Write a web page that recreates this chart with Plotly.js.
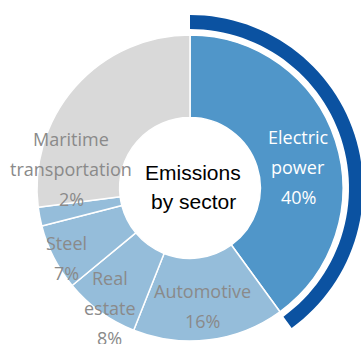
<!DOCTYPE html>
<html><head><meta charset="utf-8">
<script src="https://cdn.plot.ly/plotly-3.0.1.min.js"></script>
<style>html,body{margin:0;padding:0;background:#fff}#chart{width:361px;height:344px}</style>
</head><body><div id="chart"></div>
<script>
const sectors = ["Electric power", "Automotive", "Real estate", "Steel", "Maritime transportation", "Other"];
const shares = [40, 16, 8, 7, 2, 27];
const sliceColors = ["#5096C9", "#95BDDA", "#95BDDA", "#95BDDA", "#95BDDA", "#D9D9D9"];
const labelLines = [["Electric", "power", "40%"], ["Automotive", "16%"], ["Real", "estate", "8%"], ["Steel", "7%"], ["Maritime", "transportation", "2%"], []];
const labelAnchors = [[298, 137], [203, 291], [110, 278], [66, 243], [71, 139], [0, 0]];
const labelColors = ["#FFFFFF", "#8A8A8A", "#8A8A8A", "#8A8A8A", "#8A8A8A", "#8A8A8A"];
const centerLines = ["Emissions", "by sector"];
const highlightIndex = 0;

const W = 361, H = 344;
const cx = 190, cy = 188, R = 153;
const px2x = p => p / W, py2y = p => 1 - p / H;

// highlight arc derived from the share of the highlighted sector
const total = shares.reduce((a, b) => a + b, 0);
const startFrac = shares.slice(0, highlightIndex).reduce((a, b) => a + b, 0) / total;
const endFrac = startFrac + shares[highlightIndex] / total;
const rIn = 159, rOut = 173;
const pts = [];
const N = 60;
for (let i = 0; i <= N; i++) {
  const a = 2 * Math.PI * (startFrac + (endFrac - startFrac) * i / N);
  pts.push([cx + rOut * Math.sin(a), cy - rOut * Math.cos(a)]);
}
for (let i = N; i >= 0; i--) {
  const a = 2 * Math.PI * (startFrac + (endFrac - startFrac) * i / N);
  pts.push([cx + rIn * Math.sin(a), cy - rIn * Math.cos(a)]);
}
const path = pts.map((p, i) => (i ? "L" : "M") + px2x(p[0]).toFixed(5) + "," + py2y(p[1]).toFixed(5)).join(" ") + " Z";

const annotations = [];
const lineGap = 30;
labelLines.forEach((lines, k) => {
  lines.forEach((t, j) => {
    annotations.push({
      text: t, showarrow: false, xref: "paper", yref: "paper",
      x: px2x(labelAnchors[k][0]), y: py2y(labelAnchors[k][1] + j * lineGap),
      xanchor: "center", yanchor: "middle",
      font: {family: "Open Sans, Noto Sans, sans-serif", size: 18, color: labelColors[k]}
    });
  });
});
centerLines.forEach((t, j) => {
  annotations.push({
    text: t, showarrow: false, xref: "paper", yref: "paper",
    x: px2x(193), y: py2y(172 + j * 29), xanchor: "center", yanchor: "middle",
    font: {family: "Liberation Sans, Arial, sans-serif", size: 21, color: "#000000"}
  });
});

const trace = {
  type: "pie", labels: sectors, values: shares, sort: false, direction: "clockwise", rotation: 0,
  hole: 0.46, textinfo: "none", hoverinfo: "label+percent",
  marker: {colors: sliceColors, line: {color: "#FFFFFF", width: 1.5}},
  domain: {x: [px2x(cx - R), px2x(cx + R)], y: [py2y(cy + R), py2y(cy - R)]},
  showlegend: false
};

Plotly.newPlot("chart", [trace], {
  width: W, height: H, margin: {l: 0, r: 0, t: 0, b: 0},
  paper_bgcolor: "#FFFFFF", showlegend: false,
  shapes: [{type: "path", xref: "paper", yref: "paper", path: path, fillcolor: "#0B52A1", line: {width: 0}, layer: "above"}],
  annotations: annotations
}, {displayModeBar: false, staticPlot: true});
</script></body></html>
